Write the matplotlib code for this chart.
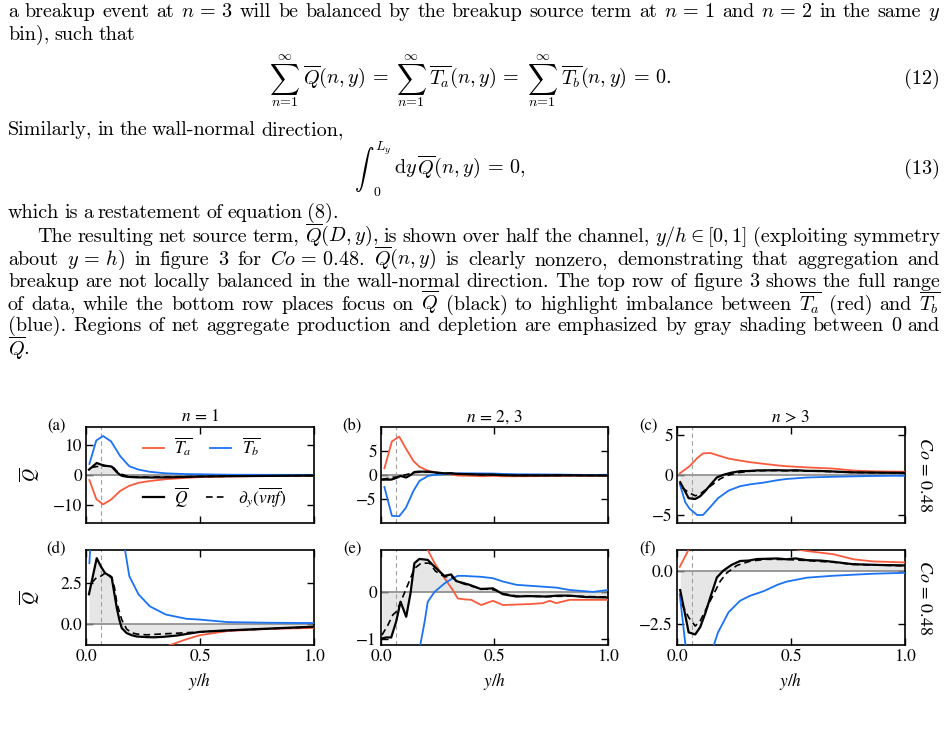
import numpy as np
import matplotlib
matplotlib.use("Agg")
import matplotlib.pyplot as plt
from matplotlib.lines import Line2D

plt.rcParams['font.family'] = ['STIXGeneral', 'DejaVu Sans']
plt.rcParams['mathtext.fontset'] = 'stix'

W, H = 948, 737
RED = '#fa5a3c'
BLUE = '#1a72f5'

# n = 1
yT1 = [0.015, 0.045, 0.075, 0.11, 0.15, 0.19, 0.23, 0.28, 0.35, 0.44, 0.5, 0.62, 0.8, 1.0]
Ta1 = [-1.7, -8.0, -9.8, -8.2, -5.3, -3.6, -2.6, -2.0, -1.4, -0.95, -0.7, -0.45, -0.32, -0.26]
Tb1 = [3.7, 11.5, 13.0, 11.2, 6.3, 2.9, 1.8, 1.06, 0.56, 0.3, 0.25, 0.1, 0.06, 0.04]
yQ1 = [0.013, 0.047, 0.065, 0.083, 0.1, 0.113, 0.12, 0.135, 0.147, 0.157, 0.178, 0.2,
       0.222, 0.266, 0.3, 0.34, 0.4, 0.44, 0.5, 0.6, 0.7, 0.8, 0.9, 1.0]
Q1 = [1.8, 4.0, 3.5, 3.1, 2.95, 2.8, 2.2, 0.96, 0.2, -0.27, -0.57, -0.7,
      -0.78, -0.82, -0.83, -0.8, -0.72, -0.63, -0.5, -0.42, -0.36, -0.3, -0.24, -0.18]
yD1 = [0.025, 0.045, 0.065, 0.085, 0.1, 0.113, 0.125, 0.135, 0.147, 0.157, 0.178, 0.2,
       0.222, 0.266, 0.34, 0.44, 0.5, 0.6, 0.7, 0.8, 0.9, 1.0]
D1 = [2.5, 2.8, 2.9, 3.1, 3.0, 2.85, 2.2, 1.3, 0.7, 0.24, -0.33, -0.55,
      -0.63, -0.68, -0.62, -0.55, -0.5, -0.43, -0.37, -0.31, -0.25, -0.2]

# n = 2,3
yT2 = [0.015, 0.048, 0.08, 0.11, 0.143, 0.17, 0.192, 0.206, 0.236, 0.28, 0.316, 0.338, 0.368,
       0.398, 0.441, 0.493, 0.537, 0.596, 0.654, 0.713, 0.743, 0.772, 0.83, 0.934, 1.0]
Ta2 = [1.4, 7.0, 8.0, 5.5, 2.9, 1.7, 1.2, 0.9, 0.62, 0.3, 0.05, -0.13, -0.15,
       -0.16, -0.27, -0.18, -0.27, -0.26, -0.25, -0.23, -0.18, -0.23, -0.16, -0.16, -0.16]
Tb2 = [-2.5, -8.5, -8.6, -6.8, -3.3, -1.2, -0.63, -0.2, 0.01, 0.19, 0.3, 0.35, 0.35,
       0.34, 0.33, 0.3, 0.23, 0.16, 0.14, 0.12, 0.11, 0.1, 0.05, 0.01, 0.05]
yQ2 = [0.004, 0.023, 0.045, 0.067, 0.086, 0.111, 0.13, 0.147, 0.169, 0.206, 0.243, 0.279, 0.309,
       0.331, 0.39, 0.44, 0.493, 0.537, 0.596, 0.65, 0.728, 0.78, 0.83, 0.9, 1.0]
Q2 = [-0.98, -0.96, -0.96, -0.62, -0.2, -0.52, -0.02, 0.62, 0.71, 0.69, 0.51, 0.35, 0.38,
      0.24, 0.16, 0.07, 0.085, -0.04, -0.09, -0.08, -0.09, -0.07, -0.07, -0.1, -0.11]
yD2 = [0.004, 0.03, 0.052, 0.07, 0.1, 0.118, 0.148, 0.177, 0.214, 0.24, 0.28, 0.31, 0.34,
       0.39, 0.44, 0.5, 0.54, 0.6, 0.73, 0.83, 1.0]
D2 = [-0.91, -0.7, -0.48, -0.4, -0.05, 0.16, 0.51, 0.62, 0.62, 0.45, 0.33, 0.33, 0.22,
      0.14, 0.08, 0.05, -0.03, -0.08, -0.09, -0.08, -0.1]

# n > 3
yT3 = [0.012, 0.036, 0.055, 0.088, 0.114, 0.146, 0.18, 0.226, 0.277, 0.32, 0.38, 0.44,
       0.48, 0.57, 0.686, 0.774, 0.86, 1.0]
Ta3 = [0.2, 0.7, 1.1, 2.1, 2.7, 2.75, 2.45, 2.05, 1.8, 1.6, 1.4, 1.2,
       1.1, 0.95, 0.8, 0.56, 0.46, 0.41]
Tb3 = [-1.1, -3.4, -4.2, -5.0, -5.0, -4.0, -2.9, -1.95, -1.4, -1.17, -0.95, -0.65,
       -0.5, -0.31, -0.22, -0.17, -0.125, -0.08]
yQ3 = [0.014, 0.029, 0.051, 0.08, 0.102, 0.124, 0.146, 0.175, 0.204, 0.24, 0.277, 0.314,
       0.35, 0.44, 0.48, 0.52, 0.57, 0.63, 0.686, 0.77, 0.89, 1.0]
Q3 = [-0.9, -1.7, -2.9, -3.0, -2.65, -2.0, -1.25, -0.3, 0.03, 0.3, 0.48, 0.5,
      0.57, 0.6, 0.56, 0.6, 0.52, 0.5, 0.44, 0.33, 0.29, 0.27]
yD3 = [0.022, 0.051, 0.08, 0.102, 0.124, 0.153, 0.19, 0.219, 0.263, 0.32, 0.39, 0.48,
       0.57, 0.686, 0.77, 0.89, 1.0]
D3 = [-1.56, -2.19, -2.6, -2.35, -1.88, -1.25, -0.47, -0.08, 0.27, 0.47, 0.56, 0.55,
      0.5, 0.42, 0.32, 0.28, 0.25]

titles = [r'$n\,=\,1$', r'$n\,=\,2,\,3$', r'$n\,>\,3$']
top_lims = [(-16, 16), (-10, 10), (-6, 6)]
top_ticks = [[-10, 0, 10], [-5, 0, 5], [-5, 0, 5]]
bot_lims = [(-1.3, 4.5), (-1.12, 0.9), (-3.5, 1.0)]
bot_ticks = [[0, 2.5], [-1, 0], [-2.5, 0]]
y_wall = 0.064

fig = plt.figure(figsize=(W / 100, H / 100), dpi=100)
renderer = fig.canvas.get_renderer()

# ---- page text ----
FS = 14.5


def ptext(x, y, s, size=FS, **kw):
    return fig.text(x / W, 1 - y / H, s, family='cmr10', math_fontfamily='cm', fontsize=size, **kw)


def width(a):
    return a.get_window_extent(renderer).width


def page_line(s, base, x0=8, x1=940, justify=True):
    words = s.split(' ')
    arts = [ptext(0, base, w, va='baseline', ha='left') for w in words]
    ws = [width(a) for a in arts]
    if justify and len(words) > 1:
        gap = (x1 - x0 - sum(ws)) / (len(words) - 1)
    else:
        gap = 5.0
    x = x0
    for a, w in zip(arts, ws):
        a.set_x(x / W)
        x += w + gap


page_line(r'a breakup event at $n\,=\,3$ will be balanced by the breakup source term at $n\,=\,1$ and $n\,=\,2$ in the same $y$', 17)
page_line('bin), such that', 40, justify=False)

# equation (12), pieces laid out side by side and centred
bodies = [r'$\overline{Q}(n,y)\,=$', r'$\overline{T_a}(n,y)\,=$', r'$\overline{T_b}(n,y)\,=\,0.$']
pieces = []
for body in bodies:
    s = ptext(0, 79, r'$\sum$', size=15, ha='center', va='center')
    hi = ptext(0, 57, r'$\infty$', size=10, ha='center', va='center')
    lo = ptext(0, 102, r'$n\!=\!1$', size=10, ha='center', va='center')
    b = ptext(0, 84, body, ha='left', va='baseline')
    pieces.append((s, hi, lo, b, max(width(s), width(lo)), width(b)))
total = sum(p[4] + 3 + p[5] for p in pieces) + 2 * 7
x = 470 - total / 2
for s, hi, lo, b, sw, bw in pieces:
    for a in (s, hi, lo):
        a.set_x((x + sw / 2) / W)
    b.set_x((x + sw + 3) / W)
    x += sw + 3 + bw + 7
ptext(940, 84, '(12)', ha='right', va='baseline')

page_line('Similarly, in the wall-normal direction,', 135, justify=False)

# equation (13)
ptext(364, 169, r'$\int$', size=14, ha='center', va='center')
ptext(383, 148, r'$L_y$', size=10, ha='center', va='center')
ptext(377, 192, r'$0$', size=10, ha='center', va='center')
ptext(394, 174, r'$\mathrm{d}y\,\overline{Q}(n,y)\,=\,0,$', ha='left', va='baseline')
ptext(940, 174, '(13)', ha='right', va='baseline')

page_line('which is a restatement of equation (8).', 218, justify=False)
page_line(r'The resulting net source term, $\overline{Q}(D,y)$, is shown over half the channel, $y/h\in[0,1]$ (exploiting symmetry', 242, x0=37)
page_line(r'about $y\,=\,h$) in figure 3 for $Co\,=\,0.48$. $\overline{Q}(n,y)$ is clearly nonzero, demonstrating that aggregation and', 265)
page_line('breakup are not locally balanced in the wall-normal direction. The top row of figure 3 shows the full range', 287)
page_line(r'of data, while the bottom row places focus on $\overline{Q}$ (black) to highlight imbalance between $\overline{T_a}$ (red) and $\overline{T_b}$', 310)
page_line('(blue). Regions of net aggregate production and depletion are emphasized by gray shading between 0 and', 331)
page_line(r'$\overline{Q}$.', 356, justify=False)

# ---- figure panels ----
lefts = [86, 381, 677]
widths_px = [228, 227, 228]
rows = [(427, 523), (550, 645)]
data = [(yT1, Ta1, Tb1, yQ1, Q1, yD1, D1),
        (yT2, Ta2, Tb2, yQ2, Q2, yD2, D2),
        (yT3, Ta3, Tb3, yQ3, Q3, yD3, D3)]
letters = [['(a)', '(b)', '(c)'], ['(d)', '(e)', '(f)']]
letter_x = [56, 352, 648]


def draw(ax, yT, Ta, Tb, yQ, Q, yD, D):
    ax.fill_between(yQ, Q, 0, color='#e6e6e6', lw=0, zorder=1)
    ax.axhline(0, color='#8a8a8a', lw=1.2, zorder=2)
    ax.axvline(y_wall, color='#a0a0a0', lw=0.8, ls=(0, (4, 3)), zorder=2)
    ax.plot(yT, Ta, color=RED, lw=1.3, zorder=3)
    ax.plot(yT, Tb, color=BLUE, lw=1.3, zorder=3)
    ax.plot(yQ, Q, color='k', lw=1.6, zorder=4)
    ax.plot(yD, D, color='k', lw=1.2, ls=(0, (4, 2.5)), zorder=4)
    ax.set_xlim(0, 1)
    ax.set_xticks([0, 0.5, 1])
    ax.tick_params(direction='in', top=True, right=True, length=5, width=1, labelsize=12.5, pad=3)
    for sp in ax.spines.values():
        sp.set_linewidth(1.2)


axes = [[None] * 3 for _ in range(2)]
for r, (ytop, ybot) in enumerate(rows):
    for c in range(3):
        ax = fig.add_axes([lefts[c] / W, 1 - ybot / H, widths_px[c] / W, (ybot - ytop) / H])
        axes[r][c] = ax
        draw(ax, *data[c])
        if r == 0:
            ax.set_ylim(*top_lims[c])
            ax.set_yticks(top_ticks[c])
            ax.set_xticklabels([])
            ax.set_title(titles[c], fontsize=12.5, pad=4)
        else:
            ax.set_ylim(*bot_lims[c])
            ax.set_yticks(bot_ticks[c])
            ax.set_xlabel('$y/h$', fontsize=12.5, labelpad=4)
        fig.text(letter_x[c] / W, 1 - (ytop - 1) / H, letters[r][c], fontsize=12,
                 ha='center', va='center')
    fig.text(29 / W, 1 - (ytop + ybot) / 2 / H, r'$\overline{Q}$', fontsize=13,
             rotation=90, ha='center', va='center')
    fig.text(924 / W, 1 - (ytop + ybot) / 2 / H, r'$Co\,=\,0.48$', fontsize=13,
             rotation=270, ha='center', va='center')

# legends in (a)
ax = axes[0][0]
h1 = [Line2D([], [], color=RED, lw=1.3), Line2D([], [], color=BLUE, lw=1.3)]
h2 = [Line2D([], [], color='k', lw=1.6), Line2D([], [], color='k', lw=1.2, ls=(0, (4, 2.5)))]
leg1 = ax.legend(h1, [r'$\overline{T_a}$', r'$\overline{T_b}$'], loc='center left',
                 bbox_to_anchor=(0.22, 0.79), ncol=2, frameon=False, fontsize=12.5,
                 handlelength=1.2, handletextpad=0.6, columnspacing=1.0, borderaxespad=0)
ax.add_artist(leg1)
ax.legend(h2, [r'$\overline{Q}$', r'$\partial_y(\overline{vnf})$'], loc='center left',
          bbox_to_anchor=(0.22, 0.27), ncol=2, frameon=False, fontsize=12.5,
          handlelength=1.2, handletextpad=0.6, columnspacing=1.0, borderaxespad=0)

fig.savefig('out.png', dpi=100)
